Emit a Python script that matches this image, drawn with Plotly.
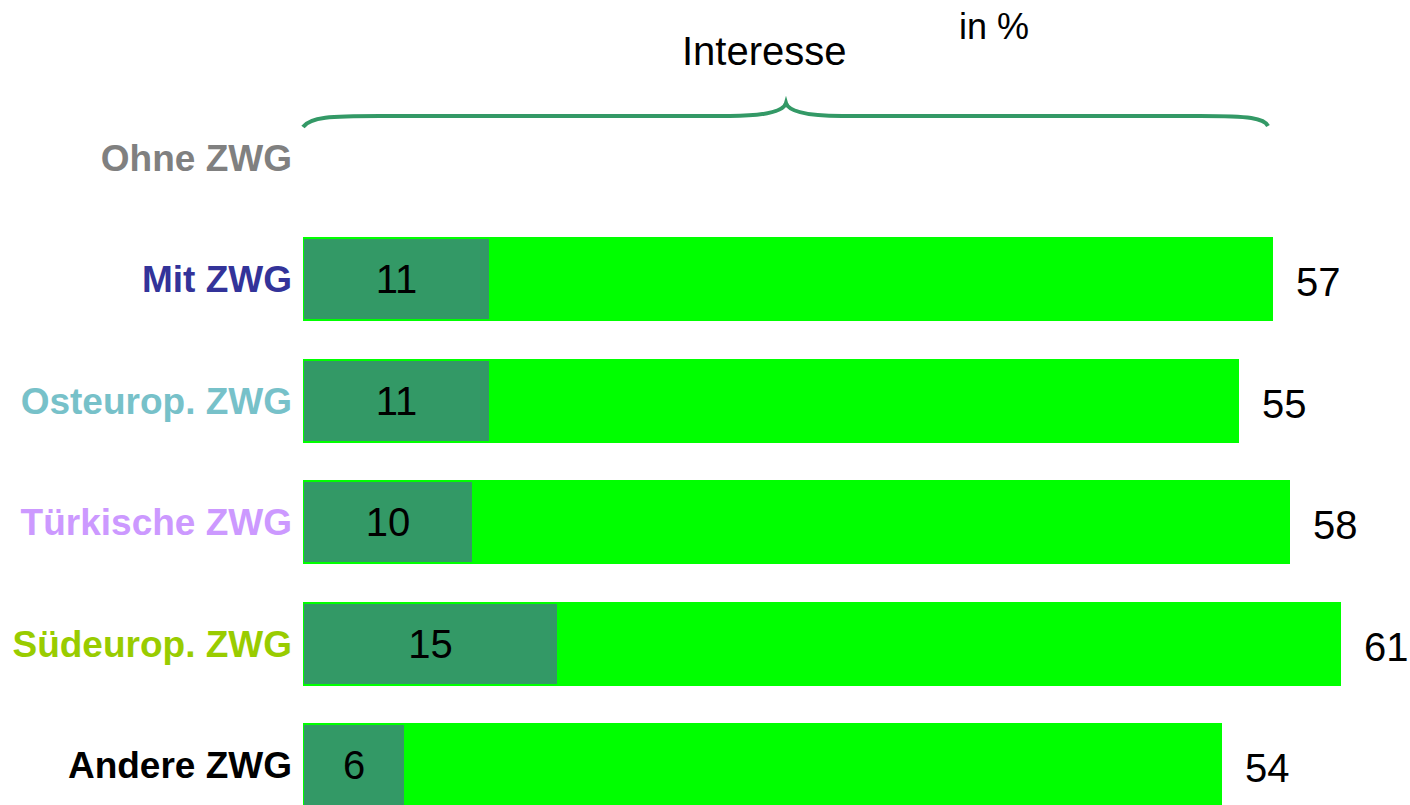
import plotly.graph_objects as go

categories = ["Ohne ZWG", "Mit ZWG", "Osteurop. ZWG", "Türkische ZWG", "Südeurop. ZWG", "Andere ZWG"]
label_colors = ["#808080", "#333399", "#77C1C9", "#CC99FF", "#99CC00", "#000000"]
total_values = [None, 57, 55, 58, 61, 54]      # Interesse gesamt
strong_values = [None, 11, 11, 10, 15, 6]      # starkes Interesse

W, H = 1410, 805
ML, MR, MT, MB = 303, 0, 130, 0
PX_PER_UNIT = 17.0
x_max = (W - ML - MR) / PX_PER_UNIT
row_px = 121.4
top_row_center = 158
plot_h = H - MT - MB
y_top = -(top_row_center - MT) / row_px
y_bot = y_top + plot_h / row_px

FONT = "Liberation Sans, Arial"

fig = go.Figure()
fig.add_trace(go.Bar(
    y=categories, x=total_values, orientation="h", width=0.675,
    marker=dict(color="#00FF00", line=dict(color="#00FF00", width=2)),
    hoverinfo="skip", showlegend=False,
))
fig.add_trace(go.Bar(
    y=categories, x=strong_values, orientation="h", width=0.675,
    marker=dict(color="#339966", line=dict(color="#00FF00", width=2)),
    text=[("" if v is None else str(v)) for v in strong_values],
    textposition="inside", insidetextanchor="middle",
    textfont=dict(family=FONT, size=40, color="#000000"),
    constraintext="none",
    hoverinfo="skip", showlegend=False,
))

for cat, v in zip(categories, total_values):
    if v is None:
        continue
    fig.add_annotation(x=v, y=cat, xref="x", yref="y", text=str(v), showarrow=False,
                       xanchor="left", yanchor="middle", xshift=22, yshift=-3,
                       font=dict(family=FONT, size=40, color="#000000"))

ticktext = [f"<span style='color:{c}'>{t}</span>" for t, c in zip(categories, label_colors)]


def px2paper(px, py):
    return (px - ML) / (W - ML - MR), (H - MB - py) / plot_h


brace_pts = [
    ("M", [(303, 127)]),
    ("C", [(310, 117), (330, 116), (380, 116)]),
    ("L", [(730, 116)]),
    ("C", [(770, 116), (784, 110), (786, 103)]),
    ("C", [(788, 110), (802, 116), (842, 116)]),
    ("L", [(1200, 116)]),
    ("C", [(1250, 116), (1264, 118), (1268, 126)]),
]
path = ""
for cmd, pts in brace_pts:
    path += cmd + " " + " ".join("%.5f,%.5f" % px2paper(*p) for p in pts) + " "
fig.add_shape(type="path", path=path.strip(), xref="paper", yref="paper",
              line=dict(color="#339966", width=4))

fx, fy = px2paper(764, 51)
fig.add_annotation(x=fx, y=fy, xref="paper", yref="paper", text="Interesse", showarrow=False,
                   xanchor="center", yanchor="middle",
                   font=dict(family=FONT, size=40, color="#000000"))
fx, fy = px2paper(994, 27)
fig.add_annotation(x=fx, y=fy, xref="paper", yref="paper", text="in %", showarrow=False,
                   xanchor="center", yanchor="middle",
                   font=dict(family=FONT, size=36, color="#000000"))

fig.update_layout(
    width=W, height=H, barmode="overlay", bargap=0,
    margin=dict(l=ML, r=MR, t=MT, b=MB),
    paper_bgcolor="white", plot_bgcolor="white",
    xaxis=dict(range=[0, x_max], visible=False, fixedrange=True),
    yaxis=dict(type="category", categoryorder="array", categoryarray=categories,
               range=[y_bot, y_top], tickmode="array", tickvals=categories, ticktext=ticktext,
               tickfont=dict(family=FONT, size=37, weight="bold"),
               showgrid=False, zeroline=False, showline=False, ticks="",
               ticklabelstandoff=10, fixedrange=True),
)

fig.write_html("out.html", config={"displayModeBar": False},
               post_script="document.body.style.margin='0';document.body.style.overflow='hidden';")
